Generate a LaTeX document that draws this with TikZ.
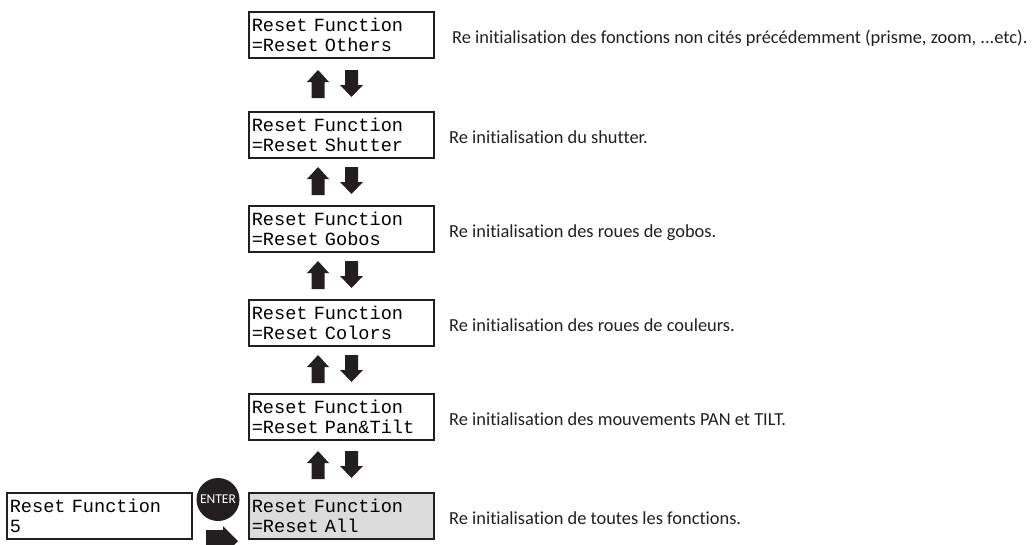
\documentclass[tikz,border=0pt]{standalone}
\usepackage{fontspec}
\setmainfont{Carlito}[Ligatures={NoCommon}]
\newfontfamily\lcdfont{Liberation Mono}
\definecolor{lcdgrey}{HTML}{DCDCDC}
\definecolor{ink}{HTML}{231F20}
\newcommand{\uparrowat}[2]{%
  \fill[ink] (#1-6.5,#2+14) -- (#1-6.5,#2-2) -- (#1-11,#2-2) -- (#1,#2-14)
    -- (#1+11,#2-2) -- (#1+6.5,#2-2) -- (#1+6.5,#2+14) -- cycle;}
\newcommand{\downarrowat}[2]{%
  \fill[ink] (#1-6.5,#2-14) -- (#1-6.5,#2+1) -- (#1-11.5,#2+1) -- (#1,#2+13)
    -- (#1+11.5,#2+1) -- (#1+6.5,#2+1) -- (#1+6.5,#2-14) -- cycle;}
\begin{document}
\begin{tikzpicture}[x=1pt,y=-1pt,
  lcd/.style={draw=ink,line width=1.6pt,rectangle,minimum width=185pt,minimum height=46pt,
    text width=179pt,inner xsep=3pt,inner ysep=1.5pt,align=left,
    font=\lcdfont\fontsize{18.6}{20.5}\selectfont,anchor=north west},
  desc/.style={anchor=base west,inner sep=0pt,font=\fontsize{18.4}{21}\selectfont,text=ink}]
\useasboundingbox (0,0) rectangle (1033,544);
\clip (0,0) rectangle (1033,544);

\node[lcd] (b1) at (248,11) {Reset Function\\=Reset Others};
\node[lcd] (b2) at (248,111) {Reset Function\\=Reset Shutter};
\node[lcd] (b3) at (248,205) {Reset Function\\=Reset Gobos};
\node[lcd] (b4) at (248,299) {Reset Function\\=Reset Colors};
\node[lcd] (b5) at (248,393) {Reset Function\\=Reset Pan\&Tilt};
\node[lcd,fill=lcdgrey] (b6) at (248,492) {Reset Function\\=Reset All};
\node[lcd] (b0) at (6,492) {Reset Function\\5};

\node[desc] (d1) at (452,43) {Re initialisation des fonctions non cités précédemment (prisme, zoom, ...etc).};
\node[desc] (d2) at (449,143) {Re initialisation du shutter.};
\node[desc] (d3) at (449,237) {Re initialisation des roues de gobos.};
\node[desc] (d4) at (449,331) {Re initialisation des roues de couleurs.};
\node[desc] (d5) at (449,425) {Re initialisation des mouvements PAN et TILT.};
\node[desc] (d6) at (449,524) {Re initialisation de toutes les fonctions.};

\foreach \y in {84,181,275,369,465} {
  \uparrowat{318}{\y}
  \downarrowat{351.5}{\y}
}

\node[circle,fill=ink,minimum size=43pt,inner sep=0pt,text=white,
  font=\fontsize{13.5}{15}\selectfont] (enter) at (218,499.5) {ENTER};
\fill[ink] (206,530) -- (223,530) -- (223,526) -- (238,541) -- (223,556)
  -- (223,552) -- (206,552) -- cycle;
\end{tikzpicture}
\end{document}
